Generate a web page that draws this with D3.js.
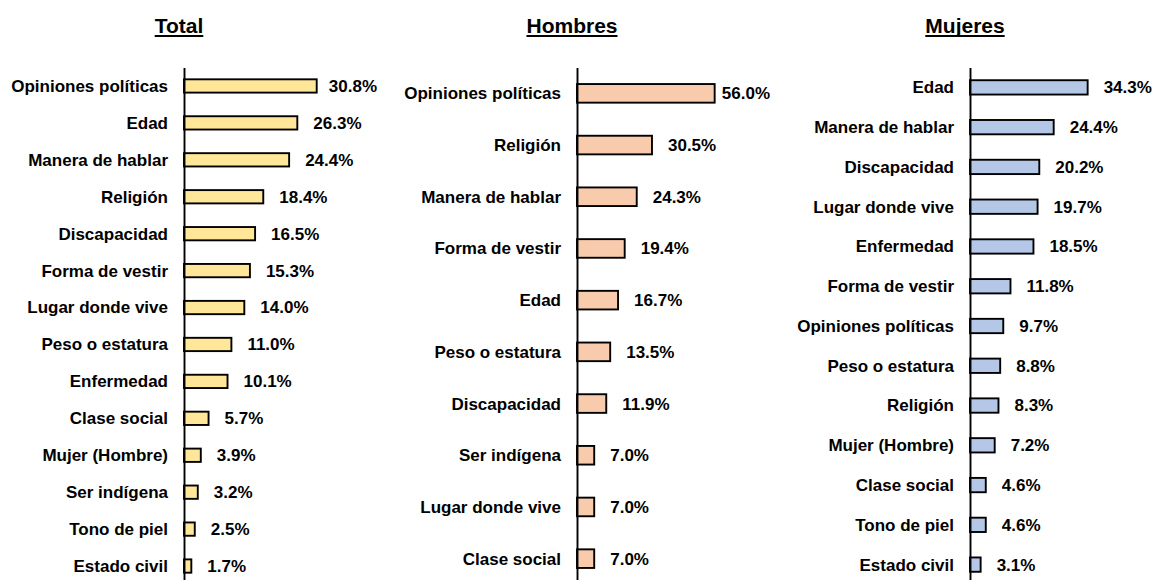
<!DOCTYPE html>
<html>
<head>
<meta charset="utf-8">
<script src="https://cdn.jsdelivr.net/npm/d3@7"></script>
<style>
body { margin: 0; background: #fff; }
text { font-family: "Liberation Sans", Arial, sans-serif; font-weight: bold; fill: #000; }
.bar { stroke: #000; stroke-width: 1.9px; }
.axis path { stroke: #000; stroke-width: 1.9px; }
</style>
</head>
<body>
<svg width="1154" height="580"></svg>
<script>
// Total
var totalCats = ["Opiniones políticas", "Edad", "Manera de hablar", "Religión", "Discapacidad",
  "Forma de vestir", "Lugar donde vive", "Peso o estatura", "Enfermedad", "Clase social",
  "Mujer (Hombre)", "Ser indígena", "Tono de piel", "Estado civil"];
var totalVals = [30.8, 26.3, 24.4, 18.4, 16.5, 15.3, 14.0, 11.0, 10.1, 5.7, 3.9, 3.2, 2.5, 1.7];

// Hombres
var hombresCats = ["Opiniones políticas", "Religión", "Manera de hablar", "Forma de vestir", "Edad",
  "Peso o estatura", "Discapacidad", "Ser indígena", "Lugar donde vive", "Clase social"];
var hombresVals = [56.0, 30.5, 24.3, 19.4, 16.7, 13.5, 11.9, 7.0, 7.0, 7.0];

// Mujeres
var mujeresCats = ["Edad", "Manera de hablar", "Discapacidad", "Lugar donde vive", "Enfermedad",
  "Forma de vestir", "Opiniones políticas", "Peso o estatura", "Religión", "Mujer (Hombre)",
  "Clase social", "Tono de piel", "Estado civil"];
var mujeresVals = [34.3, 24.4, 20.2, 19.7, 18.5, 11.8, 9.7, 8.8, 8.3, 7.2, 4.6, 4.6, 3.1];

var svg = d3.select("svg");

function panel(title, cats, vals, color, axisX, xMax, xWidth, rightEdge, titleX) {
  var g = svg.append("g");

  var x = d3.scaleLinear().domain([0, xMax]).range([axisX, axisX + xWidth]);
  var y = d3.scaleBand().domain(cats).range([67.5, 584.5]).paddingInner(0).paddingOuter(0);
  var barH = y.bandwidth() * 0.36;

  // title with underline
  var t = g.append("text")
    .attr("x", titleX)
    .attr("y", 33)
    .attr("text-anchor", "middle")
    .style("font-size", "21px")
    .text(title);
  var tw = t.node().getComputedTextLength();
  g.append("line")
    .attr("x1", titleX - tw / 2).attr("x2", titleX + tw / 2)
    .attr("y1", 36).attr("y2", 36)
    .attr("stroke", "#000").attr("stroke-width", 2);

  g.selectAll(".bar")
    .data(vals)
    .enter().append("rect")
    .attr("class", "bar")
    .attr("x", x(0))
    .attr("y", function(d, i) { return y(cats[i]) + y.bandwidth() / 2 - barH / 2; })
    .attr("width", function(d) { return x(d) - x(0); })
    .attr("height", barH)
    .attr("fill", color);

  // category labels
  g.selectAll(".cat")
    .data(cats)
    .enter().append("text")
    .attr("x", axisX - 16)
    .attr("y", function(d) { return y(d) + y.bandwidth() / 2; })
    .attr("dy", "0.35em")
    .attr("text-anchor", "end")
    .style("font-size", "17px")
    .text(function(d) { return d; });

  // value labels (pushed left when they would run past the panel edge)
  g.selectAll(".val")
    .data(vals)
    .enter().append("text")
    .attr("y", function(d, i) { return y(cats[i]) + y.bandwidth() / 2; })
    .attr("dy", "0.35em")
    .style("font-size", "17px")
    .text(function(d) { return d.toFixed(1) + "%"; })
    .attr("x", function(d) {
      var w = this.getComputedTextLength();
      return Math.min(x(d) + 16, rightEdge - w);
    });

  g.append("g")
    .attr("class", "axis")
    .attr("transform", "translate(" + axisX + ",0)")
    .call(d3.axisLeft(y).tickSize(0).tickFormat(""))
    .call(function(a) { a.selectAll(".tick").remove(); });
}

panel("Total", totalCats, totalVals, "#FFE699", 184, 35, 150.8, 377, 179);
panel("Hombres", hombresCats, hombresVals, "#F8CBAD", 577, 60, 147.5, 770, 572);
panel("Mujeres", mujeresCats, mujeresVals, "#B4C7E7", 970, 40, 137.2, 1152, 965);
</script>
</body>
</html>
